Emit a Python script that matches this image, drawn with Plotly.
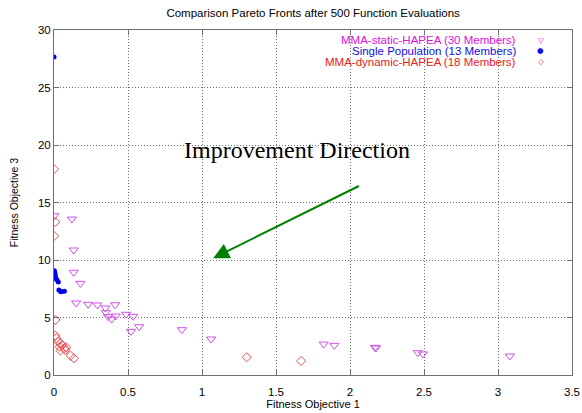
import plotly.graph_objects as go

# MMA-static-HAPEA (30 Members)
static_x = [0.002, 0.121, 0.133, 0.133, 0.178, 0.150, 0.230, 0.293, 0.347, 0.413,
            0.350, 0.365, 0.390, 0.417, 0.487, 0.535, 0.520, 0.575, 0.864, 1.061,
            1.822, 1.894, 2.168, 2.176, 2.458, 2.492, 3.080]
static_y = [13.85, 13.56, 10.87, 8.93, 7.97, 6.26, 6.15, 6.09, 5.83, 6.11,
            5.42, 5.07, 4.87, 5.13, 5.28, 5.10, 3.80, 4.20, 3.94, 3.13,
            2.69, 2.58, 2.40, 2.36, 1.94, 1.83, 1.65]

# Single Population (13 Members)
single_x = [0.0, 0.002, 0.004, 0.006, 0.008, 0.009, 0.015, 0.020, 0.029, 0.033, 0.045, 0.049, 0.070]
single_y = [27.65, 9.07, 8.98, 8.84, 8.70, 8.55, 8.35, 8.26, 8.09, 7.39, 7.27, 7.25, 7.28]

# MMA-dynamic-HAPEA (18 Members)
dyn_x = [0.0, 0.009, 0.0, 0.009, 0.009, 0.015, 0.027, 0.043, 0.038, 0.043,
         0.056, 0.070, 0.076, 0.083, 0.112, 0.135, 1.302, 1.670]
dyn_y = [17.9, 13.3, 12.09, 4.78, 3.42, 3.20, 2.90, 2.75, 2.46, 2.12,
         2.60, 2.32, 2.17, 2.40, 1.68, 1.45, 1.54, 1.22]

legend_names = ["MMA-static-HAPEA (30 Members)",
                "Single Population (13 Members)",
                "MMA-dynamic-HAPEA (18 Members)"]
legend_colors = ["#e010e0", "#1010e0", "#e82020"]
legend_symbols = ["▽", "●", "◇"]

x_ticks = [0, 0.5, 1, 1.5, 2, 2.5, 3, 3.5]
y_ticks = [0, 5, 10, 15, 20, 25, 30]

fig = go.Figure()
fig.add_trace(go.Scatter(
    x=static_x, y=static_y, mode="markers", name=legend_names[0],
    marker=dict(symbol="triangle-down-open", size=8, color="#d050e8", line=dict(width=1))))
fig.add_trace(go.Scatter(
    x=single_x, y=single_y, mode="markers", name=legend_names[1],
    marker=dict(symbol="circle", size=5, color="#0000ee")))
fig.add_trace(go.Scatter(
    x=dyn_x, y=dyn_y, mode="markers", name=legend_names[2],
    marker=dict(symbol="diamond-open", size=7, color="#ee5050", line=dict(width=1))))

annotations = []
ys = [0.971, 0.9405, 0.908]
for name, col, sym, yy in zip(legend_names, legend_colors, legend_symbols, ys):
    annotations.append(dict(xref="paper", yref="paper", x=0.8957, y=yy, text=name,
                            showarrow=False, xanchor="right", yanchor="middle",
                            font=dict(family="Liberation Sans, Arial", size=11.5, color=col)))
    annotations.append(dict(xref="paper", yref="paper", x=0.940, y=yy, text=sym,
                            showarrow=False, xanchor="center", yanchor="middle",
                            font=dict(family="DejaVu Sans", size=7.5, color=col)))

annotations.append(dict(x=1.075, y=10.15, ax=2.07, ay=16.5, xref="x", yref="y",
                        axref="x", ayref="y", text="", showarrow=True,
                        arrowhead=2, arrowsize=1.6, arrowwidth=2, arrowcolor="#008000"))
annotations.append(dict(x=1.64, y=19.6, xref="x", yref="y", text="Improvement Direction",
                        showarrow=False, xanchor="center", yanchor="middle",
                        font=dict(family="Liberation Serif, Times New Roman", size=24, color="#000000")))

axis_common = dict(showgrid=True, gridcolor="#707070", griddash="1px,2px", gridwidth=1,
                   zeroline=False, showline=True, linecolor="#707070", linewidth=1,
                   mirror="ticks", ticks="inside", ticklen=5, tickcolor="#707070",
                   automargin=False,
                   tickfont=dict(family="Liberation Sans, Arial", size=11.5, color="#000000"))

fig.update_layout(
    width=582, height=413,
    margin=dict(l=54, r=10, t=30, b=38, autoexpand=False),
    paper_bgcolor="white", plot_bgcolor="white",
    showlegend=False,
    title=dict(text="Comparison Pareto Fronts after 500 Function Evaluations",
               x=0.538, xanchor="center", y=1 - 13 / 413, yref="container", yanchor="middle",
               automargin=False,
               font=dict(family="Liberation Sans, Arial", size=11.5, color="#000000")),
    xaxis=dict(range=[0, 3.5], tickvals=x_ticks, ticktext=[f"{t:g}" for t in x_ticks],
               ticklabelstandoff=6,
               title=dict(text="Fitness Objective 1", standoff=0,
                          font=dict(family="Liberation Sans, Arial", size=11, color="#000000")),
               **axis_common),
    yaxis=dict(range=[0, 30], tickvals=y_ticks, ticktext=[str(t) for t in y_ticks],
               title=dict(text="Fitness Objective 3", standoff=17,
                          font=dict(family="Liberation Sans, Arial", size=10.5, color="#000000")),
               **axis_common),
    annotations=annotations,
)

fig.write_html("out.html", config={"displayModeBar": False},
               post_script="document.body.style.margin='0';document.body.style.overflow='hidden';")
